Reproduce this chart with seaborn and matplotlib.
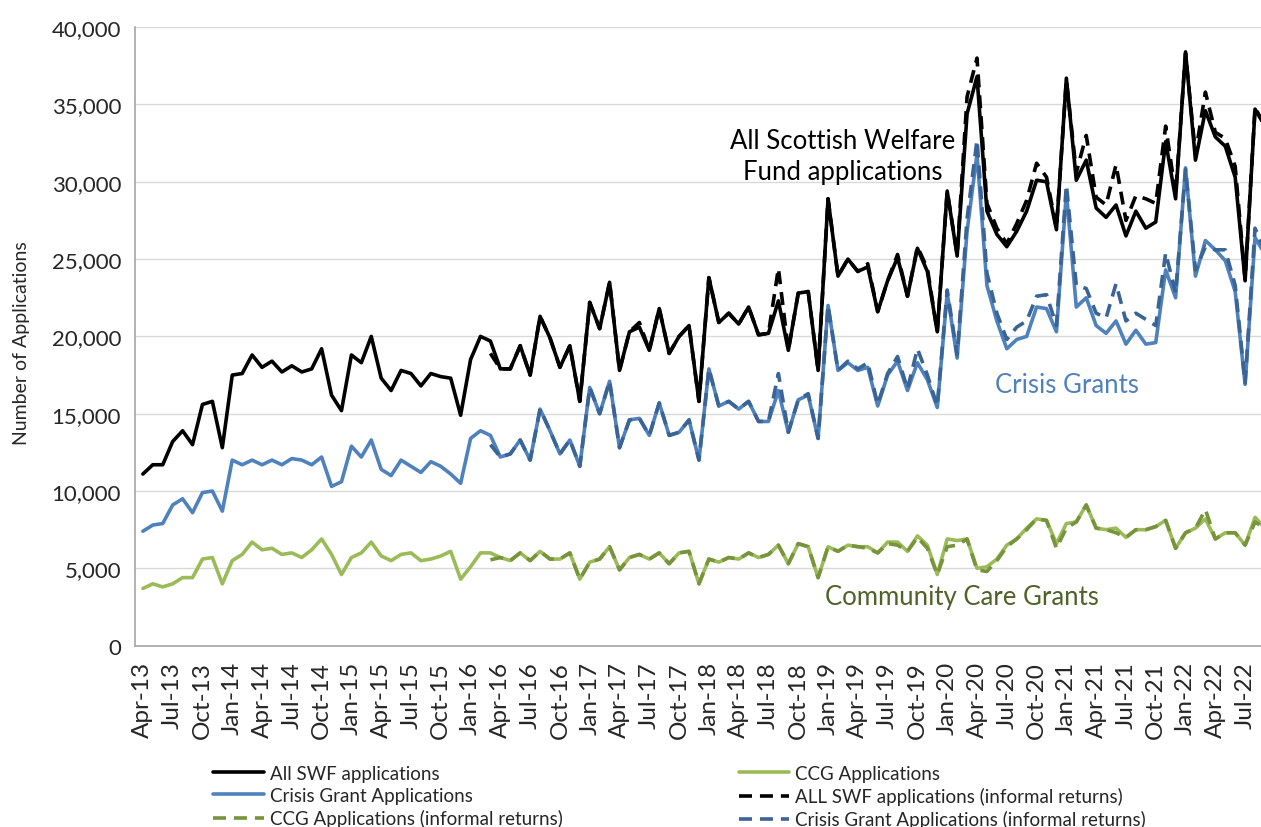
import numpy as np
import pandas as pd
import matplotlib
matplotlib.use("Agg")
import matplotlib.pyplot as plt
import seaborn as sns
from matplotlib.ticker import FuncFormatter

nan = np.nan

# Months Apr-13 .. Sep-22
month_names = ["Jan", "Feb", "Mar", "Apr", "May", "Jun", "Jul", "Aug", "Sep", "Oct", "Nov", "Dec"]
months = []
y, m = 2013, 3
for _ in range(114):
    months.append(f"{month_names[m]}-{str(y)[2:]}")
    m += 1
    if m == 12:
        m = 0
        y += 1

all_swf = [11100, 11700, 11700, 13200, 13900, 13000, 15600, 15800, 12800, 17500,
           17600, 18800, 18000, 18400, 17700, 18100, 17700, 17900, 19200, 16200,
           15200, 18800, 18300, 20000, 17300, 16500, 17800, 17600, 16800, 17600,
           17400, 17300, 14900, 18500, 20000, 19700, 17900, 17900, 19400, 17500,
           21300, 19900, 18000, 19400, 15800, 22200, 20500, 23500, 17800, 20300,
           20600, 19100, 21800, 18900, 20000, 20700, 15800, 23800, 20900, 21500,
           20800, 21900, 20100, 20200, 22300, 19100, 22800, 22900, 17800, 28900,
           23900, 25000, 24200, 24500, 21600, 23600, 25100, 22600, 25700, 24200,
           20300, 29400, 25200, 34400, 36800, 28100, 26600, 25800, 26800, 28100,
           30100, 30000, 26900, 36700, 30100, 31400, 28300, 27700, 28500, 26500,
           28100, 27000, 27400, 32600, 28900, 38400, 31400, 34600, 32900, 32300,
           30300, 23600, 34700, 33600]

ccg = [3700, 4000, 3800, 4000, 4400, 4400, 5600, 5700, 4000, 5500,
       5900, 6700, 6200, 6300, 5900, 6000, 5700, 6200, 6900, 5900,
       4600, 5700, 6000, 6700, 5800, 5500, 5900, 6000, 5500, 5600,
       5800, 6100, 4300, 5100, 6000, 6000, 5700, 5500, 6000, 5500,
       6100, 5600, 5600, 6000, 4300, 5400, 5600, 6400, 4900, 5700,
       5900, 5600, 6000, 5300, 6000, 6100, 4000, 5600, 5400, 5700,
       5600, 6000, 5700, 5900, 6500, 5300, 6600, 6400, 4400, 6400,
       6100, 6500, 6400, 6400, 6000, 6700, 6700, 6100, 7100, 6500,
       4600, 6900, 6800, 6900, 5000, 5100, 5600, 6500, 6900, 7600,
       8200, 8100, 6600, 7900, 8000, 9100, 7600, 7500, 7600, 7000,
       7500, 7500, 7700, 8100, 6300, 7300, 7600, 8200, 6900, 7300,
       7300, 6500, 8300, 7600]

crisis = [7400, 7800, 7900, 9100, 9500, 8600, 9900, 10000, 8700, 12000,
          11700, 12000, 11700, 12000, 11700, 12100, 12000, 11700, 12200, 10300,
          10600, 12900, 12200, 13300, 11400, 11000, 12000, 11600, 11200, 11900,
          11600, 11100, 10500, 13400, 13900, 13600, 12200, 12400, 13300, 12000,
          15300, 13900, 12400, 13300, 11600, 16700, 15000, 17100, 12800, 14600,
          14700, 13600, 15700, 13600, 13800, 14600, 12000, 17900, 15500, 15800,
          15300, 15800, 14500, 14500, 16500, 13800, 15900, 16200, 13400, 22000,
          17800, 18300, 17800, 18000, 15500, 17500, 18400, 16500, 18300, 17200,
          15400, 22800, 18600, 26800, 31800, 23300, 21000, 19200, 19800, 20000,
          21900, 21800, 20300, 29300, 21900, 22500, 20700, 20200, 21000, 19500,
          20400, 19500, 19600, 24300, 22500, 30900, 23900, 26200, 25600, 24900,
          22900, 16900, 26400, 25300]

# Informal returns (from Mar-16)
all_swf_inf = [nan] * 35 + [
    18900, 17900, 17900, 19400, 17500, 21300, 19900, 18000, 19400, 15800,
    22200, 20500, 23500, 17800, 20300, 20900, 19100, 21800, 18900, 20000,
    20700, 15800, 23800, 20900, 21500, 20800, 21900, 20100, 20200, 24400,
    19100, 22800, 22900, 17800, 28900, 23900, 25000, 24200, 24700, 21600,
    23600, 25300, 22600, 25800, 24400, 20300, 29400, 25300, 35500, 38000,
    28600, 27000, 26000, 27300, 28800, 31200, 30300, 27000, 36600, 30600,
    33000, 29000, 28500, 31100, 27500, 29100, 28900, 28600, 33600, 29200,
    38300, 31800, 35800, 33200, 32800, 31000, 23700, 34800, 33600]

ccg_inf = [nan] * 35 + [
    5550, 5700, 5500, 6000, 5500, 6100, 5600, 5600, 6000, 4300,
    5400, 5600, 6400, 4900, 5700, 5900, 5600, 6000, 5300, 6000,
    6100, 4000, 5600, 5400, 5700, 5600, 6000, 5700, 5900, 6500,
    5300, 6600, 6400, 4400, 6400, 6100, 6500, 6400, 6300, 6000,
    6600, 6500, 6100, 7000, 6300, 4600, 6400, 6500, 6900, 4900,
    4800, 5500, 6400, 6900, 7500, 8200, 8100, 6300, 7600, 8000,
    9100, 7600, 7500, 7300, 7000, 7500, 7500, 7700, 8100, 6300,
    7300, 7600, 8800, 6900, 7300, 7300, 6500, 8000, 7600]

crisis_inf = [nan] * 35 + [
    13000, 12200, 12400, 13300, 12000, 15300, 13900, 12400, 13300, 11600,
    16700, 15000, 17100, 12800, 14600, 14700, 13600, 15700, 13600, 13800,
    14600, 12000, 17900, 15500, 15800, 15300, 15800, 14500, 14500, 17600,
    13800, 15900, 16300, 13400, 22000, 17800, 18400, 17900, 18300, 15600,
    17600, 18700, 16600, 19200, 17500, 15500, 23000, 18800, 27600, 32700,
    24100, 21500, 19800, 20600, 21000, 22600, 22700, 20700, 29800, 23300,
    23100, 21500, 21200, 23400, 21000, 21500, 21100, 20700, 25400, 22800,
    30800, 24300, 25800, 25600, 25600, 23300, 17000, 27000, 25500]

series_names = ["All SWF applications", "CCG Applications", "Crisis Grant Applications",
                "ALL SWF applications (informal returns)", "CCG Applications (informal returns)",
                "Crisis Grant Applications (informal returns)"]

df = pd.DataFrame({
    "idx": np.arange(len(months)),
    series_names[0]: all_swf,
    series_names[1]: ccg,
    series_names[2]: crisis,
    series_names[3]: all_swf_inf,
    series_names[4]: ccg_inf,
    series_names[5]: crisis_inf,
})

sns.set_style("white")
plt.rcParams["font.family"] = ["Lato", "DejaVu Sans"]

fig = plt.figure(figsize=(12.61, 8.28), dpi=100)
ax = fig.add_axes([0.107, 0.219, 0.893, 0.747])

colors = ["#000000", "#9BBB59", "#4F81BD", "#000000", "#77933C", "#3A6496"]
dashed = [False, False, False, True, True, True]
handles = {}
for name, col, d in zip(series_names, colors, dashed):
    sns.lineplot(data=df, x="idx", y=name, ax=ax, color=col, linewidth=2.6,
                 linestyle="--" if d else "-", label=name, legend=False)
    line = ax.get_lines()[-1]
    if d:
        line.set_dashes((3.6, 2.2))
    line.set_solid_capstyle("round")
    handles[name] = line

ax.set_ylim(0, 40000)
ax.set_xlim(-0.8, 112.6)
ax.set_yticks(np.arange(0, 40001, 5000))
ax.yaxis.set_major_formatter(FuncFormatter(lambda v, p: f"{int(v):,}"))
tick_idx = list(range(0, len(months), 3))[:38]
ax.set_xticks(tick_idx)
ax.set_xticklabels([months[i] for i in tick_idx], rotation=90, fontsize=17.5)
ax.tick_params(axis="y", labelsize=16, length=0, pad=10)
ax.tick_params(axis="x", length=0, pad=11)
ax.grid(axis="y", color="#D9D9D9", linewidth=1)
ax.set_axisbelow(True)
for s in ["top", "right"]:
    ax.spines[s].set_visible(False)
for s in ["left", "bottom"]:
    ax.spines[s].set_color("#A6A6A6")
    ax.spines[s].set_linewidth(1.2)
ax.set_xlabel("")
ax.set_ylabel("Number of Applications", fontsize=14)
ax.yaxis.set_label_coords(-0.093, 0.49)

ax.text(70.5, 31650, "All Scottish Welfare\nFund applications", ha="center", va="center",
        fontsize=18.5, color="#000000", linespacing=1.3)
ax.text(93.1, 16900, "Crisis Grants", ha="center", va="center", fontsize=18.5, color="#4F81BD")
ax.text(82.5, 3150, "Community Care Grants", ha="center", va="center", fontsize=18.5, color="#4F6228")

order = [series_names[0], series_names[2], series_names[4],
         series_names[1], series_names[3], series_names[5]]
fig.legend([handles[n] for n in order], order, loc="upper center", ncol=2,
           bbox_to_anchor=(0.539, 0.091), frameon=False, fontsize=13.5,
           handlelength=2.7, columnspacing=9.4, labelspacing=0.28, handletextpad=0.3,
           borderpad=0.2)

fig.savefig("out.png", dpi=100)
